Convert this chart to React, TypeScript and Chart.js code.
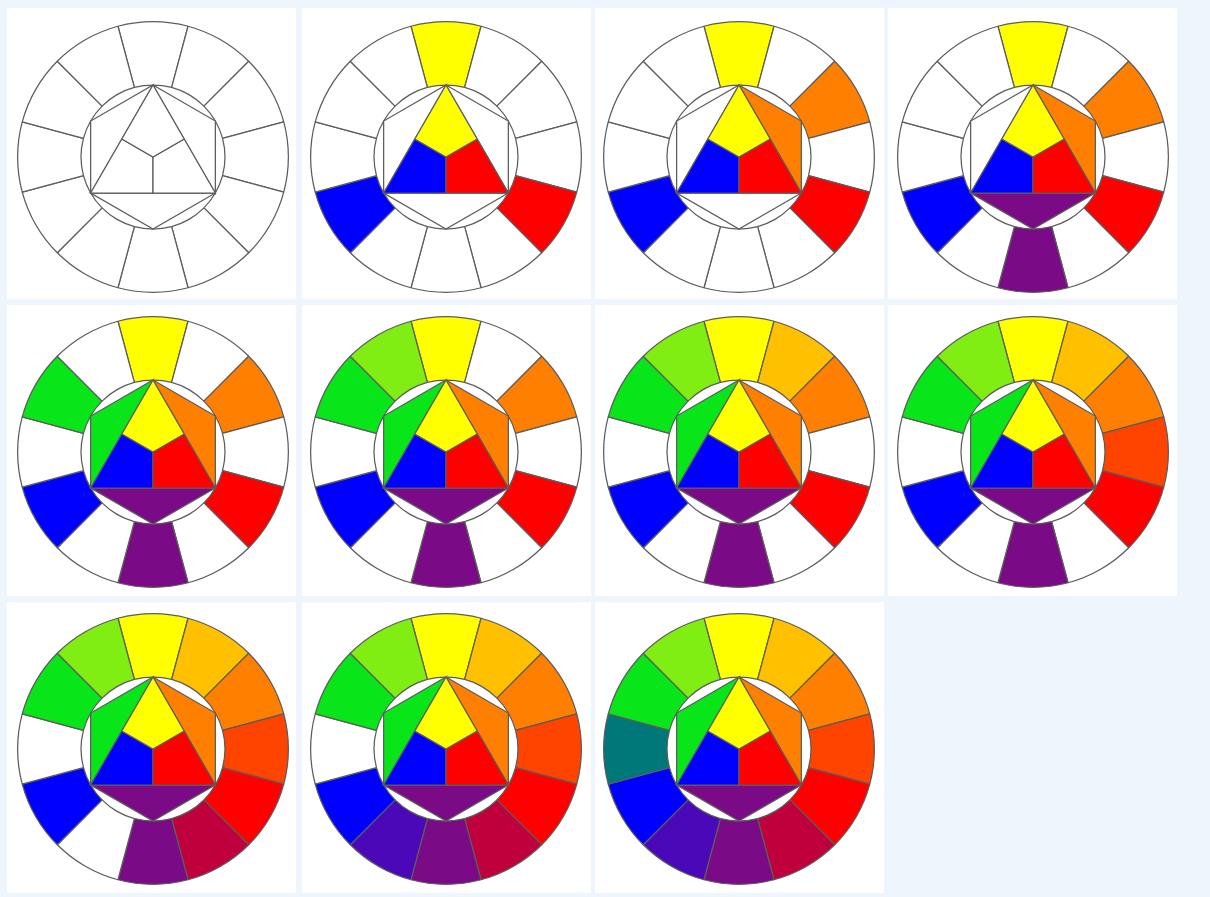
import React, { useEffect, useRef } from 'react';
import { Chart, registerables } from 'chart.js';

Chart.register(...registerables);

// ---------- data ----------
// outer ring segments, clockwise starting at the top
const ringNames = ['yellow', 'yellow-orange', 'orange', 'red-orange', 'red', 'red-violet', 'violet', 'blue-violet', 'blue', 'blue-green', 'green', 'yellow-green'];
const ringColors = ['#ffff00', '#ffc000', '#ff8000', '#ff4400', '#ff0000', '#c0003c', '#7a0a86', '#4a08b8', '#0000ff', '#00787a', '#08e61a', '#80ee12'];
const ringValues = [1, 1, 1, 1, 1, 1, 1, 1, 1, 1, 1, 1];
// step (wheel number) in which each ring segment gets coloured
const ringStage = [2, 7, 3, 8, 2, 9, 4, 10, 2, 11, 5, 6];

// inner figure: triangle split in three + three outer triangles of the hexagon
const innerNames = ['yellow', 'red', 'blue', 'orange', 'violet', 'green'];
const innerColors = ['#ffff00', '#ff0000', '#0000ff', '#ff8000', '#7a0a86', '#08e61a'];
const innerStage = [2, 2, 2, 3, 4, 5];
// vertices in units of the inner circle radius
const innerShapes: number[][][] = [
  [[0, 1], [0.433, 0.25], [0, 0], [-0.433, 0.25]],
  [[0.433, 0.25], [0.866, -0.5], [0, -0.5], [0, 0]],
  [[-0.433, 0.25], [0, 0], [0, -0.5], [-0.866, -0.5]],
  [[0, 1], [0.866, 0.5], [0.866, -0.5]],
  [[0.866, -0.5], [0, -1], [-0.866, -0.5]],
  [[-0.866, -0.5], [-0.866, 0.5], [0, 1]],
];
const wheelSteps = [1, 2, 3, 4, 5, 6, 7, 8, 9, 10, 11];

// ---------- layout / style ----------
const PAGE_BG = '#eef5fc';
const PANEL_BG = '#ffffff';
const EMPTY = '#ffffff';
const LINE = '#5c5c5c';
const LINE_W = 1.25;
const COLS = [7, 302, 595, 888];
const ROWS = [8, 305, 602];
const PANEL_W = 289;
const PANEL_H = 291;
const WHEEL_CX = [153, 446, 739, 1033];
const WHEEL_CY = [157, 452, 749];
const CANVAS = 272;
const INNER_R = 72;
const SCALE = CANVAS / 2 / INNER_R;

function Wheel({ step, cx, cy }: { step: number; cx: number; cy: number }) {
  const ringRef = useRef<HTMLCanvasElement>(null);
  const innerRef = useRef<HTMLCanvasElement>(null);

  useEffect(() => {
    const ring = new Chart(ringRef.current!, {
      type: 'doughnut',
      data: {
        labels: ringNames,
        datasets: [
          {
            data: ringValues,
            backgroundColor: ringColors.map((c, i) => (ringStage[i] <= step ? c : EMPTY)),
            borderColor: LINE,
            borderWidth: LINE_W,
          },
        ],
      },
      options: {
        animation: false,
        responsive: false,
        events: [],
        cutout: INNER_R,
        rotation: -15,
        layout: { padding: 0 },
        plugins: { legend: { display: false }, tooltip: { enabled: false } },
      },
    });

    const inner = new Chart(innerRef.current!, {
      type: 'scatter',
      data: {
        datasets: innerShapes.map((pts, i) => ({
          label: innerNames[i],
          data: [...pts, pts[0]].map(([x, y]) => ({ x, y })),
          showLine: true,
          fill: 'shape',
          backgroundColor: innerStage[i] <= step ? innerColors[i] : EMPTY,
          borderColor: LINE,
          borderWidth: LINE_W,
          pointRadius: 0,
          tension: 0,
        })),
      },
      options: {
        animation: false,
        responsive: false,
        events: [],
        layout: { padding: 0 },
        scales: {
          x: { type: 'linear', min: -SCALE, max: SCALE, display: false },
          y: { type: 'linear', min: -SCALE, max: SCALE, display: false },
        },
        plugins: { legend: { display: false }, tooltip: { enabled: false } },
      },
    } as any);

    return () => {
      ring.destroy();
      inner.destroy();
    };
  }, [step]);

  const style: React.CSSProperties = {
    position: 'absolute',
    left: cx - CANVAS / 2,
    top: cy - CANVAS / 2,
    width: CANVAS,
    height: CANVAS,
  };
  return (
    <>
      <canvas ref={ringRef} width={CANVAS} height={CANVAS} style={style} />
      <canvas ref={innerRef} width={CANVAS} height={CANVAS} style={style} />
    </>
  );
}

export default function App() {
  return (
    <div
      style={{
        position: 'absolute',
        left: 0,
        top: 0,
        width: 1210,
        height: 897,
        background: PAGE_BG,
        overflow: 'hidden',
      }}
    >
      {wheelSteps.map((step, i) => {
        const c = i % 4;
        const r = Math.floor(i / 4);
        return (
          <div
            key={'p' + step}
            style={{
              position: 'absolute',
              left: COLS[c],
              top: ROWS[r],
              width: PANEL_W,
              height: PANEL_H,
              background: PANEL_BG,
            }}
          />
        );
      })}
      {wheelSteps.map((step, i) => {
        const c = i % 4;
        const r = Math.floor(i / 4);
        return <Wheel key={'w' + step} step={step} cx={WHEEL_CX[c]} cy={WHEEL_CY[r]} />;
      })}
    </div>
  );
}
